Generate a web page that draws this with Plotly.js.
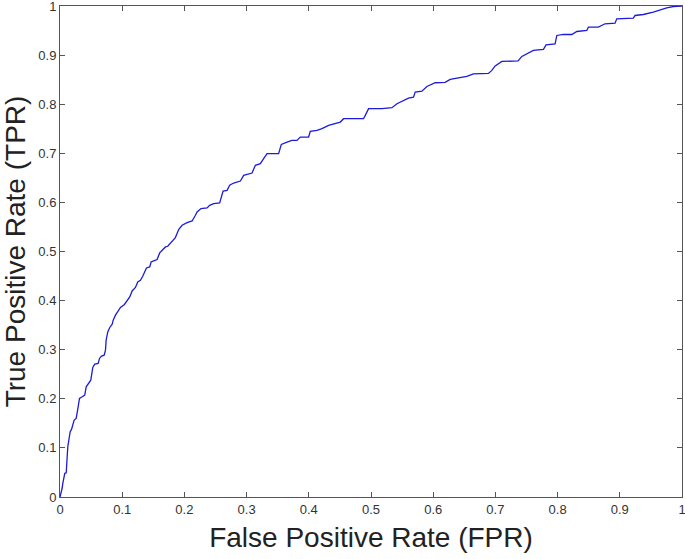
<!DOCTYPE html>
<html>
<head>
<meta charset="utf-8">
<script src="https://cdn.plot.ly/plotly-3.0.1.min.js"></script>
<style>html,body{margin:0;padding:0;background:#fff;}#chart{width:685px;height:559px;}</style>
</head>
<body>
<div id="chart"></div>
<script>
// ROC curve (False Positive Rate vs True Positive Rate)
const fpr = [0, 0.0013, 0.0035, 0.0045, 0.0077, 0.0100, 0.0120, 0.0125, 0.0164, 0.0185,
  0.0228, 0.0260, 0.0292, 0.0313, 0.0357, 0.0398, 0.0421, 0.0463, 0.0495, 0.0527,
  0.0559, 0.0614, 0.0635, 0.0667, 0.0710, 0.0731, 0.0742, 0.0768, 0.0800, 0.0839,
  0.0855, 0.0892, 0.0929, 0.0972, 0.1036, 0.1068, 0.1121, 0.1160, 0.1213, 0.1250,
  0.1293, 0.1330, 0.1357, 0.1390, 0.1443, 0.1465, 0.1507, 0.1561, 0.1603, 0.1642,
  0.1695, 0.1732, 0.1775, 0.1855, 0.1908, 0.1963, 0.2043, 0.2124, 0.2177, 0.2204,
  0.2268, 0.2365, 0.2406, 0.2471, 0.2567, 0.2590, 0.2622, 0.2686, 0.2728, 0.2792,
  0.2900, 0.2953, 0.3033, 0.3088, 0.3141, 0.3221, 0.3274, 0.3329, 0.3515, 0.3558,
  0.3650, 0.3730, 0.3810, 0.3863, 0.3997, 0.4024, 0.4132, 0.4212, 0.4318, 0.4426,
  0.4506, 0.4559, 0.4880, 0.4908, 0.4961, 0.5176, 0.5337, 0.5417, 0.5523, 0.5603,
  0.5683, 0.5711, 0.5818, 0.5899, 0.6032, 0.6193, 0.6273, 0.6407, 0.6541, 0.6647,
  0.6888, 0.6943, 0.6996, 0.7104, 0.7365, 0.7425, 0.7611, 0.7772, 0.7815, 0.7960,
  0.7987, 0.8093, 0.8228, 0.8309, 0.8469, 0.8495, 0.8655, 0.8763, 0.8924, 0.8951,
  0.9218, 0.9245, 0.9378, 0.9539, 0.9619, 0.9674, 0.9754, 0.9860, 0.9968, 1.0];
const tpr = [0, 0.0061, 0.0183, 0.0279, 0.0482, 0.0494, 0.0820, 0.1023, 0.1329, 0.1377,
  0.1567, 0.1601, 0.1837, 0.2008, 0.2041, 0.2075, 0.2244, 0.2326, 0.2380, 0.2639,
  0.2706, 0.2720, 0.2822, 0.2869, 0.2889, 0.2991, 0.3194, 0.3363, 0.3453, 0.3520,
  0.3601, 0.3703, 0.3790, 0.3860, 0.3921, 0.3974, 0.4075, 0.4197, 0.4267, 0.4380,
  0.4415, 0.4496, 0.4564, 0.4665, 0.4686, 0.4787, 0.4808, 0.4836, 0.4971, 0.5025,
  0.5093, 0.5107, 0.5162, 0.5284, 0.5447, 0.5534, 0.5589, 0.5622, 0.5738, 0.5805,
  0.5874, 0.5886, 0.5941, 0.5976, 0.5988, 0.6110, 0.6232, 0.6246, 0.6348, 0.6395,
  0.6435, 0.6551, 0.6586, 0.6598, 0.6755, 0.6790, 0.6891, 0.6993, 0.6993, 0.7182,
  0.7229, 0.7264, 0.7264, 0.7331, 0.7331, 0.7447, 0.7467, 0.7502, 0.7569, 0.7603,
  0.7636, 0.7705, 0.7705, 0.7772, 0.7908, 0.7908, 0.7929, 0.8010, 0.8077, 0.8124,
  0.8144, 0.8246, 0.8266, 0.8362, 0.8437, 0.8444, 0.8505, 0.8531, 0.8566, 0.8616,
  0.8626, 0.8688, 0.8779, 0.8871, 0.8881, 0.8973, 0.9095, 0.9115, 0.9207, 0.9227,
  0.9400, 0.9420, 0.9420, 0.9481, 0.9502, 0.9569, 0.9569, 0.9638, 0.9650, 0.9739,
  0.9752, 0.9807, 0.9827, 0.9874, 0.9908, 0.9943, 0.9963, 0.9990, 1.0, 1.0];
const tickVals = [0, 0.1, 0.2, 0.3, 0.4, 0.5, 0.6, 0.7, 0.8, 0.9, 1];
const tickText = ["0", "0.1", "0.2", "0.3", "0.4", "0.5", "0.6", "0.7", "0.8", "0.9", "1"];
const xLabel = "False Positive Rate (FPR)";
const yLabel = "True Positive Rate (TPR)";

const axisCommon = {
  range: [0, 1],
  tickmode: 'array',
  tickvals: tickVals,
  ticktext: tickText,
  ticks: 'inside',
  ticklen: 5,
  tickwidth: 1,
  tickcolor: '#555',
  showline: true,
  linecolor: '#555',
  linewidth: 1,
  mirror: 'ticks',
  showgrid: false,
  zeroline: false,
  ticklabeloverflow: 'allow',
  tickfont: {family: 'Liberation Sans, Arial, sans-serif', size: 13, color: '#333'}
};

const trace = {
  x: fpr, y: tpr, type: 'scatter', mode: 'lines',
  line: {color: '#1c1cd8', width: 1.3},
  hoverinfo: 'skip', cliponaxis: false
};

const layout = {
  width: 685, height: 559,
  margin: {l: 60, r: 3, t: 6, b: 62},
  paper_bgcolor: '#fff', plot_bgcolor: '#fff',
  showlegend: false,
  xaxis: Object.assign({}, axisCommon, {
    title: {text: xLabel, font: {family: 'Liberation Sans, Arial, sans-serif', size: 28, color: '#222'}, standoff: 11}
  }),
  yaxis: Object.assign({}, axisCommon, {
    title: {text: yLabel, font: {family: 'Liberation Sans, Arial, sans-serif', size: 28, color: '#222'}, standoff: 5}
  })
};

Plotly.newPlot('chart', [trace], layout, {staticPlot: true, displayModeBar: false});
</script>
</body>
</html>
